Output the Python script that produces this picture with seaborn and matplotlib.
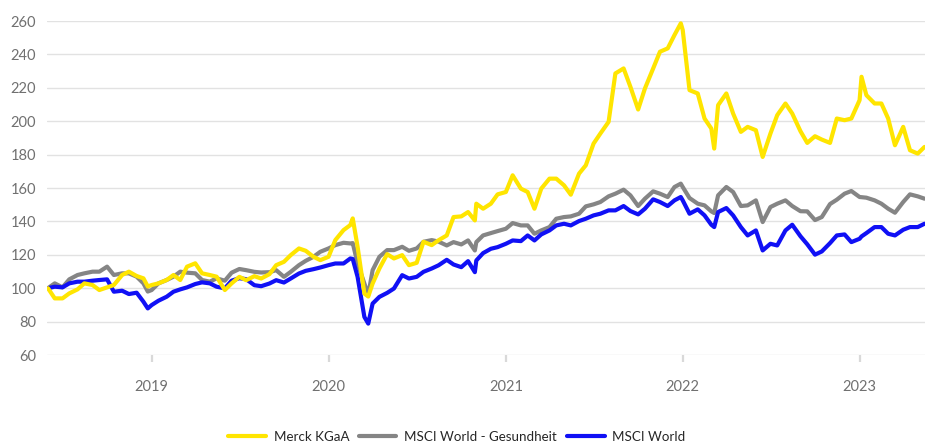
import pandas as pd
import matplotlib.pyplot as plt
import matplotlib.dates as mdates
import seaborn as sns

# --- data (index, start = 100) ---
dates = [
    "2018-06-01", "2018-06-15", "2018-07-01", "2018-07-15", "2018-08-01", "2018-08-15",
    "2018-09-01", "2018-09-15", "2018-10-01", "2018-10-15", "2018-11-01", "2018-11-15",
    "2018-12-01", "2018-12-15", "2018-12-24",
    "2019-01-01", "2019-01-15", "2019-02-01", "2019-02-15", "2019-03-01", "2019-03-15",
    "2019-04-01", "2019-04-15", "2019-05-01", "2019-05-15", "2019-06-01", "2019-06-15",
    "2019-07-01", "2019-07-15", "2019-08-01", "2019-08-15", "2019-09-01", "2019-09-15",
    "2019-10-01", "2019-10-15", "2019-11-01", "2019-11-15", "2019-12-01", "2019-12-15",
    "2020-01-01", "2020-01-15", "2020-02-01", "2020-02-15", "2020-02-20", "2020-03-01",
    "2020-03-15", "2020-03-23", "2020-04-01", "2020-04-15", "2020-05-01", "2020-05-15",
    "2020-06-01", "2020-06-15", "2020-07-01", "2020-07-15", "2020-08-01", "2020-08-15",
    "2020-09-01", "2020-09-15", "2020-10-01", "2020-10-15", "2020-10-29", "2020-11-01",
    "2020-11-15", "2020-12-01", "2020-12-15",
    "2021-01-01", "2021-01-15", "2021-02-01", "2021-02-15", "2021-03-01", "2021-03-15",
    "2021-04-01", "2021-04-15", "2021-05-01", "2021-05-15", "2021-06-01", "2021-06-15",
    "2021-07-01", "2021-07-15", "2021-08-01", "2021-08-15", "2021-09-01", "2021-09-15",
    "2021-10-01", "2021-10-15", "2021-11-01", "2021-11-15", "2021-12-01", "2021-12-15",
    "2021-12-28",
    "2022-01-01", "2022-01-15", "2022-02-01", "2022-02-15", "2022-03-01", "2022-03-07",
    "2022-03-15", "2022-04-01", "2022-04-15", "2022-05-01", "2022-05-15", "2022-06-01",
    "2022-06-15", "2022-07-01", "2022-07-15", "2022-08-01", "2022-08-15", "2022-09-01",
    "2022-09-15", "2022-10-01", "2022-10-15", "2022-11-01", "2022-11-15", "2022-12-01",
    "2022-12-15",
    "2023-01-01", "2023-01-05", "2023-01-15", "2023-02-01", "2023-02-15", "2023-03-01",
    "2023-03-15", "2023-04-01", "2023-04-15", "2023-05-01", "2023-05-15",
]

merck = [
    100, 93.9, 93.9, 96.9, 99.3, 102.9,
    101.9, 98.9, 100.5, 101.9, 107.9, 109.9,
    107.3, 105.9, 101.0,
    101.9, 102.9, 104.9, 107.9, 104.9, 112.9,
    114.9, 108.9, 107.9, 106.9, 98.9, 102.9,
    106.8, 104.8, 107.2, 105.8, 108.4, 113.8,
    115.8, 119.8, 123.8, 122.4, 118.8, 116.8,
    118.8, 128.8, 134.8, 137.8, 141.8, 124.8,
    96.8, 95.0, 102.8, 111.8, 120.4, 117.8,
    119.8, 113.8, 115.2, 127.8, 125.8, 128.7,
    131.6, 142.6, 143.0, 145.6, 140.6, 150.6,
    147.6, 150.6, 156.2,
    157.6, 167.6, 159.6, 157.6, 147.6, 159.6,
    165.6, 165.6, 161.6, 156.0, 168.6, 173.6,
    186.6, 192.6, 199.6, 228.6, 231.6, 220.6,
    207.0, 219.6, 231.6, 241.6, 243.6, 251.6,
    258.6,
    254.6, 218.6, 216.6, 201.6, 195.6, 183.6,
    209.6, 216.6, 204.6, 193.6, 196.6, 194.6,
    178.6, 192.6, 203.6, 210.6, 204.6, 194.0,
    187.0, 191.0, 189.0, 187.0, 201.6, 200.6,
    201.6,
    212.6, 226.6, 215.6, 210.6, 210.6, 201.6,
    185.6, 196.6, 182.6, 180.6, 184.6,
]

health = [
    100, 102.9, 100.5, 105.3, 107.9, 108.9,
    109.9, 109.9, 112.9, 107.9, 108.9, 108.9,
    106.9, 102.9, 98.0,
    98.9, 102.9, 104.9, 106.9, 109.9, 109.3,
    108.9, 104.9, 103.9, 105.9, 104.5, 109.3,
    111.5, 110.8, 109.8, 109.4, 109.6, 110.8,
    106.8, 109.8, 113.8, 116.4, 118.8, 121.8,
    123.8, 125.8, 127.2, 126.8, 127.0, 114.8,
    102.8, 96.0, 110.8, 118.8, 122.8, 122.8,
    124.8, 122.4, 123.8, 127.8, 128.8, 127.9,
    125.6, 127.6, 126.2, 128.6, 122.6, 127.6,
    131.6, 133.0, 134.2,
    135.6, 139.0, 137.6, 137.6, 132.6, 134.6,
    136.6, 141.6, 142.6, 143.0, 144.6, 149.0,
    150.2, 151.6, 155.0, 156.6, 159.0, 155.6,
    149.2, 153.6, 158.0, 156.6, 154.6, 160.6,
    162.6,
    160.6, 154.0, 150.6, 149.6, 146.0, 145.0,
    155.6, 160.6, 157.6, 149.2, 149.6, 152.6,
    139.6, 148.6, 150.6, 152.6, 149.2, 146.1,
    146.0, 140.8, 142.6, 150.4, 153.0, 156.6,
    158.2,
    154.6, 154.5, 154.2, 152.6, 150.6, 147.6,
    145.2, 151.6, 156.2, 155.0, 153.6,
]

world = [
    100, 100.9, 100.5, 102.9, 103.9, 103.9,
    104.5, 104.9, 105.3, 97.9, 98.5, 96.5,
    97.3, 91.9, 87.9,
    89.9, 92.5, 94.9, 97.9, 99.3, 100.5,
    102.5, 103.5, 102.9, 100.9, 99.9, 104.5,
    106.0, 105.4, 101.8, 101.2, 102.8, 104.8,
    103.4, 105.8, 108.8, 110.4, 111.4, 112.4,
    113.8, 114.8, 114.8, 117.8, 117.5, 106.8,
    82.8, 78.8, 90.8, 94.8, 97.2, 99.8,
    107.8, 105.8, 106.8, 109.8, 111.8, 113.7,
    117.0, 114.2, 112.6, 116.2, 109.6, 116.6,
    121.0, 123.6, 124.6,
    126.6, 128.6, 128.2, 131.6, 128.6, 132.2,
    134.6, 137.6, 138.6, 137.6, 140.2, 141.6,
    143.6, 144.6, 146.6, 146.6, 149.2, 146.2,
    144.2, 147.6, 153.2, 151.6, 149.2, 152.6,
    154.6,
    152.6, 144.6, 147.2, 143.6, 138.0, 136.6,
    145.6, 148.0, 143.6, 136.6, 131.6, 134.6,
    122.6, 126.6, 125.6, 134.6, 138.0, 131.1,
    126.3, 120.1, 122.0, 127.0, 131.6, 132.2,
    127.6,
    129.6, 131.0, 133.0, 136.6, 136.6, 132.6,
    131.6, 135.0, 136.6, 136.6, 138.6,
]

df = pd.DataFrame({
    "date": pd.to_datetime(dates),
    "Merck KGaA": merck,
    "MSCI World - Gesundheit": health,
    "MSCI World": world,
})

sns.set_theme(style="white")
plt.rcParams["font.family"] = ["Lato", "DejaVu Sans"]

fig = plt.figure(figsize=(9.25, 4.44), dpi=100)
ax = fig.add_axes([47 / 925, 89 / 444, 878 / 925, 334 / 444])

colors = {"Merck KGaA": "#ffe500", "MSCI World - Gesundheit": "#858585", "MSCI World": "#1010f5"}
zorders = {"Merck KGaA": 4, "MSCI World - Gesundheit": 2, "MSCI World": 3}

for name in ["MSCI World - Gesundheit", "MSCI World", "Merck KGaA"]:
    sns.lineplot(data=df, x="date", y=name, ax=ax, color=colors[name], linewidth=3,
                 label=name, zorder=zorders[name])

ax.set_ylim(60, 260)
ax.set_yticks(range(60, 261, 20))
ax.set_xlim(pd.Timestamp("2018-05-30"), pd.Timestamp("2023-05-16"))
ax.xaxis.set_major_locator(mdates.YearLocator())
ax.xaxis.set_major_formatter(mdates.DateFormatter("%Y"))
ax.set_xlabel("")
ax.set_ylabel("")

ax.grid(axis="y", color="#e2e2e2", linewidth=1.0)
ax.grid(axis="x", visible=False)
ax.set_axisbelow(True)
for s in ax.spines.values():
    s.set_visible(False)

ax.tick_params(axis="y", length=0, pad=8, labelsize=10.5, labelcolor="#707070")
ax.tick_params(axis="x", length=5, width=1.6, color="#d9d9d9", pad=13,
               labelsize=10.5, labelcolor="#707070", bottom=True)

handles, labels = ax.get_legend_handles_labels()
order = [labels.index(n) for n in ["Merck KGaA", "MSCI World - Gesundheit", "MSCI World"]]
ax.legend([handles[i] for i in order], [labels[i] for i in order],
          loc="center", bbox_to_anchor=(457 / 925, 1 - 437 / 444), bbox_transform=fig.transFigure,
          ncol=3, frameon=False, fontsize=9.6, handlelength=2.8, handletextpad=0.6,
          columnspacing=0.75, borderaxespad=0.0, borderpad=0.0)

fig.savefig("out.png", dpi=100)
